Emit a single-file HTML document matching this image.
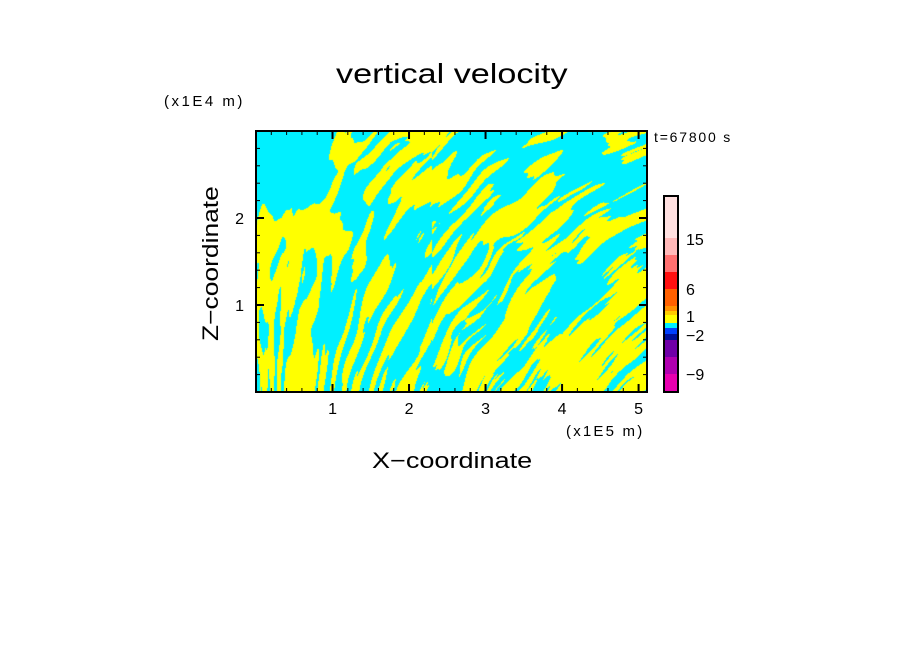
<!DOCTYPE html>
<html><head><meta charset="utf-8"><style>
body{margin:0;background:#fff;width:904px;height:654px;overflow:hidden;position:relative;font-family:"Liberation Sans",sans-serif;}
.t{position:absolute;color:#000;white-space:nowrap;transform-origin:0 0;}
</style></head><body>
<div class="t" style="left:336px;top:58px;font-size:28px;transform:scaleX(1.22);">vertical velocity</div>
<div class="t" style="left:164px;top:93px;font-size:15px;letter-spacing:2.5px;">(x1E4 m)</div>
<div class="t" style="left:654px;top:129px;font-size:14px;letter-spacing:1.8px;">t=67800 s</div>
<div class="t" style="left:566px;top:423px;font-size:15px;letter-spacing:2.2px;">(x1E5 m)</div>
<div class="t" style="left:372px;top:448px;font-size:22px;transform:scaleX(1.23);">X−coordinate</div>
<div class="t" style="left:198px;top:341px;font-size:22px;transform:rotate(-90deg) scaleX(1.2);">Z−coordinate</div>
<canvas id="field" width="391" height="261" style="position:absolute;left:256px;top:131px;"></canvas>
<svg id="ov" width="904" height="654" style="position:absolute;left:0;top:0;"></svg>
<script>
const xTicks=[1,2,3,4,5];
const zTicks=[1,2];
const cbColors=["#ffe0e0","#ffb8b8","#ff7070","#ff1010","#ff6000","#ff9000","#ffcc00","#ffff00","#ffff00","#00f0ff","#0040ff","#00109a","#7000a8","#b000b0","#e800b0"];
const cbHeights=[42,17,17,17,17,5,4,4,4,5,6,6,17,17,18];
const biasRows=[
[-0.3,-0.6,-0.5,0.3,0.1,0,0.2,0,0.1,-0.2,-0.2,-0.3,-0.1,-0.3,0,0],
[-0.6,-0.7,-0.6,-0.1,0,-0.1,0.1,0,0,0,0,-0.1,-0.2,-0.3,-0.3,-0.2],
[-0.4,-0.5,-0.3,-0.2,0,0,0,-0.1,0.1,0.1,-0.1,0,-0.1,-0.2,-0.2,-0.1],
[0.1,0.4,0.5,-0.1,0,0,-0.1,0.1,0,0.1,0.2,0.1,0,0,-0.1,0],
[0.2,0.1,0.3,0.1,0.1,0,0,0,0,0,0,0.2,0,0,-0.1,0],
[0.4,0.3,0.1,0,0.1,0,0,0,0.2,0.1,0,0,-0.3,-0.2,0.1,0.3],
[0.3,0.1,0,0,0.1,0,0,0,0,0,0,0,-0.4,-0.4,0.3,0.2],
[0,0.1,0,0,0,0.1,0.1,0,0,0,0,0,-0.3,0.1,0.3,0.1],
[0,0,0,0,0,0.2,0,0,0,0,-0.2,0.2,0.3,0.3,0,0.1],
[0,0.1,0,0,0,0.1,0,0,0,0,0,0,0.5,0.2,0,0.1]];
const X0=256,X1=647,Y0=131,Y1=392,XMAX=5.11,ZMAX=3.0;
const sx=v=>X0+v/XMAX*(X1-X0);
const sz=v=>Y1-v/ZMAX*(Y1-Y0);
const cv=document.getElementById('field'),ctx=cv.getContext('2d');
const W=cv.width,H=cv.height,img=ctx.createImageData(W,H);
const R=biasRows.length,C=biasRows[0].length;
function bias(px,py){
 let fx=px/W*C-0.5,fy=py/H*R-0.5;
 fx=Math.max(0,Math.min(C-1.001,fx));fy=Math.max(0,Math.min(R-1.001,fy));
 const i=Math.floor(fx),j=Math.floor(fy),a=fx-i,b=fy-j;
 return biasRows[j][i]*(1-a)*(1-b)+biasRows[j][i+1]*a*(1-b)+biasRows[j+1][i]*(1-a)*b+biasRows[j+1][i+1]*a*b;
}
function hash(i,j){let h=(i*374761393+j*668265263)|0;h=(h^(h>>>13))*1274126177|0;return ((h^(h>>>16))&0xffff)/32768-1;}
function sm(t){return t*t*(3-2*t);}
function vn(x,y){const i=Math.floor(x),j=Math.floor(y),a=sm(x-i),b=sm(y-j);
 return hash(i,j)*(1-a)*(1-b)+hash(i+1,j)*a*(1-b)+hash(i,j+1)*(1-a)*b+hash(i+1,j+1)*a*b;}
for(let y=0;y<H;y++){for(let x=0;x<W;x++){
 const d=y/H;
 const fx=0.07+0.13*d, fy=0.022+0.015*(1-d);
 const wx=x+8*vn(x*0.03,y*0.02+7)+ (1-d)*(1-d)*0.15*y*(x>W*0.45?-1:0.4);
 const n=vn(wx*fx,y*fy)*0.7+vn(wx*fx*2.1+3,y*fy*1.5+5)*0.3+vn(x*0.035+11,y*0.035)*0.35;
 const v=bias(x,y)*1.8+n;
 const o=(y*W+x)*4;
 if(v>0){img.data[o]=255;img.data[o+1]=255;img.data[o+2]=0;}else{img.data[o]=0;img.data[o+1]=240;img.data[o+2]=255;}
 img.data[o+3]=255;}}
ctx.putImageData(img,0,0);
const svg=document.getElementById('ov'),NS='http://www.w3.org/2000/svg';
function el(t,a){const e=document.createElementNS(NS,t);for(const k in a)e.setAttribute(k,a[k]);svg.appendChild(e);return e;}
const fr=el('rect',{x:X0,y:Y0,width:X1-X0,height:Y1-Y0,fill:'none',stroke:'#000','stroke-width':2});


for(let v=0.2;v<XMAX;v+=0.2){const x=sx(v);const major=Math.abs(v-Math.round(v))<0.01;const L=major?8:4;
 el('line',{x1:x,y1:Y1,x2:x,y2:Y1-L,stroke:'#000','stroke-width':major?2:1});
 el('line',{x1:x,y1:Y0,x2:x,y2:Y0+L,stroke:'#000','stroke-width':major?2:1});}
for(let v=0.2;v<ZMAX;v+=0.2){const y=sz(v);const major=Math.abs(v-Math.round(v))<0.01;const L=major?8:4;
 el('line',{x1:X0,y1:y,x2:X0+L,y2:y,stroke:'#000','stroke-width':major?2:1});
 el('line',{x1:X1,y1:y,x2:X1-L,y2:y,stroke:'#000','stroke-width':major?2:1});}
xTicks.forEach(v=>{const t=el('text',{x:sx(v),y:414,'font-size':16,'text-anchor':'middle','font-family':'Liberation Sans'});t.textContent=v;
 
 });
zTicks.forEach(v=>{const t=el('text',{x:244,y:sz(v)+6,'font-size':16,'text-anchor':'end','font-family':'Liberation Sans'});t.textContent=v;
 
 });
let cy=196;
cbColors.forEach((c,i)=>{const r=el('rect',{x:664,y:cy,width:14,height:cbHeights[i],fill:c});
 
 
 cy+=cbHeights[i];});
const cbf=el('rect',{x:664,y:196,width:14,height:cy-196,fill:'none',stroke:'#000','stroke-width':2});


[["15",245],["6",295],["1",322],["−2",341],["−9",380]].forEach(([s,y])=>{const t=el('text',{x:686,y:y,'font-size':16,'font-family':'Liberation Sans'});t.textContent=s;
 
 });
</script>
</body></html>
